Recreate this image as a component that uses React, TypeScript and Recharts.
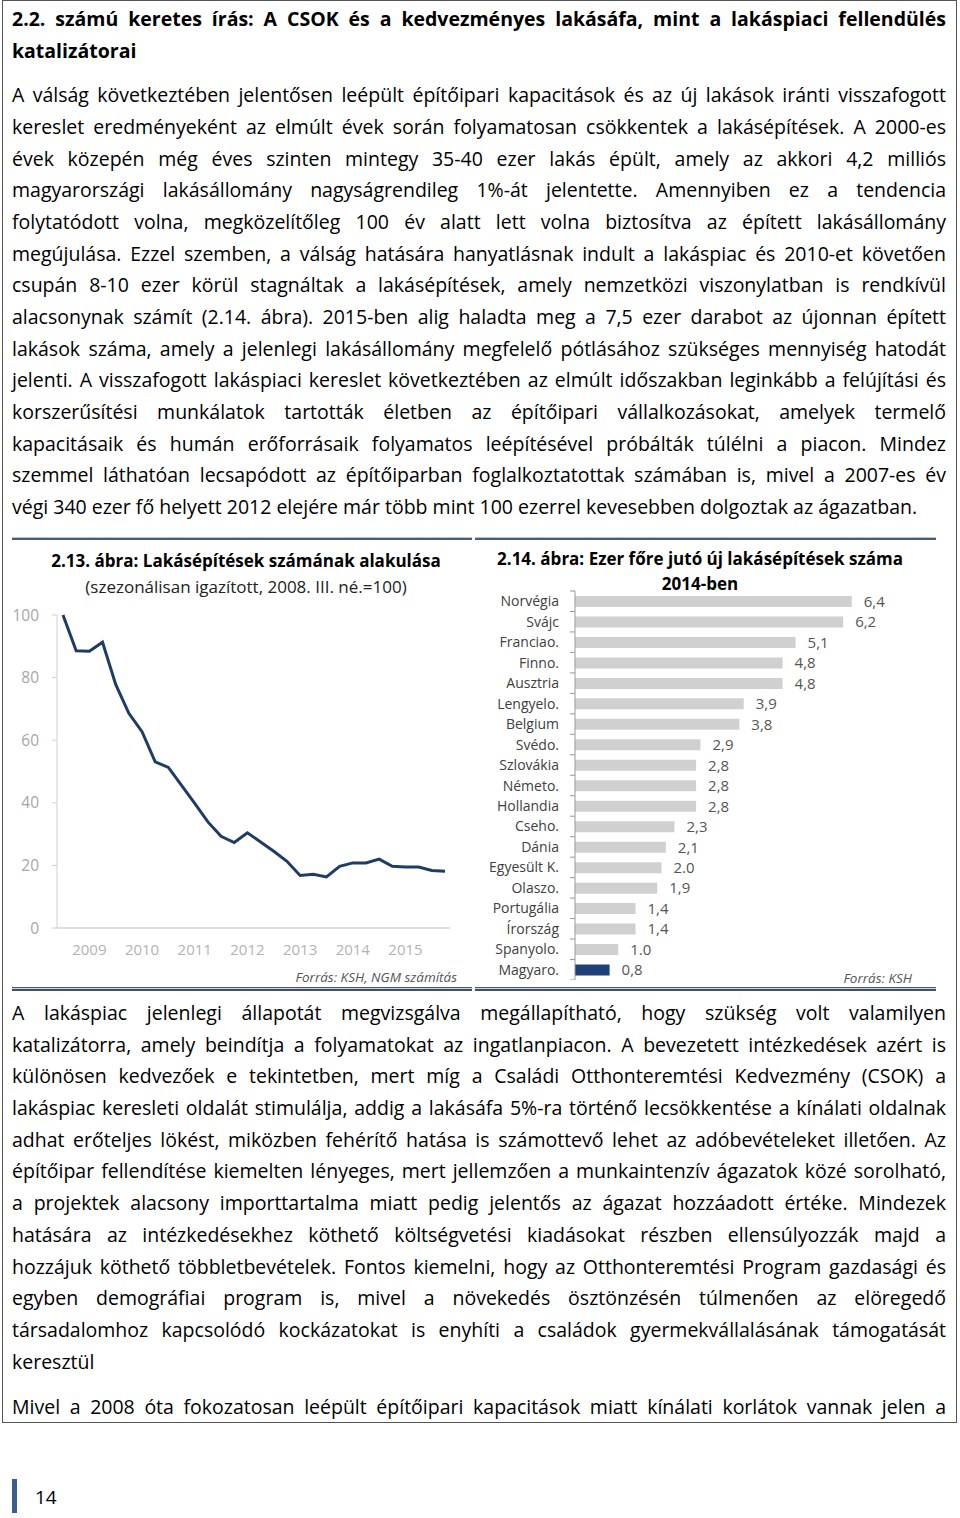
import React, {useLayoutEffect, useRef} from 'react';
import {
  LineChart,
  Line,
  XAxis,
  YAxis,
  BarChart,
  Bar,
  Cell,
  LabelList,
} from 'recharts';

// 2.13. ábra – negyedéves lakásépítések (2008. III. né. = 100)
const quarters = [
  '2008 III', '2008 IV',
  '2009 I', '2009 II', '2009 III', '2009 IV',
  '2010 I', '2010 II', '2010 III', '2010 IV',
  '2011 I', '2011 II', '2011 III', '2011 IV',
  '2012 I', '2012 II', '2012 III', '2012 IV',
  '2013 I', '2013 II', '2013 III', '2013 IV',
  '2014 I', '2014 II', '2014 III', '2014 IV',
  '2015 I', '2015 II', '2015 III', '2015 IV',
];
const index2008 = [
  100, 88.6, 88.4, 91.3, 77.8, 68.6, 62.7, 53.1, 51.3, 45.6,
  39.8, 33.9, 29.3, 27.3, 30.4, 27.5, 24.5, 21.3, 16.8, 17.2,
  16.3, 19.7, 20.8, 20.8, 22.0, 19.7, 19.5, 19.5, 18.4, 18.1,
];
const yearTicks = ['2009 I', '2010 I', '2011 I', '2012 I', '2013 I', '2014 I', '2015 I'];
const leftYTicks = [0, 20, 40, 60, 80, 100];

// 2.14. ábra – ezer főre jutó új lakásépítések 2014-ben
const countries = [
  'Norvégia', 'Svájc', 'Franciao.', 'Finno.', 'Ausztria', 'Lengyelo.', 'Belgium',
  'Svédo.', 'Szlovákia', 'Németo.', 'Hollandia', 'Cseho.', 'Dánia', 'Egyesült K.',
  'Olaszo.', 'Portugália', 'Írország', 'Spanyolo.', 'Magyaro.',
];
const perThousand = [6.4, 6.2, 5.1, 4.8, 4.8, 3.9, 3.8, 2.9, 2.8, 2.8, 2.8, 2.3, 2.1, 2.0, 1.9, 1.4, 1.4, 1.0, 0.8];
const valueLabels = ['6,4', '6,2', '5,1', '4,8', '4,8', '3,9', '3,8', '2,9', '2,8', '2,8', '2,8', '2,3', '2,1', '2.0', '1,9', '1,4', '1,4', '1.0', '0,8'];

const headingLines = [
  '2.2. számú keretes írás: A CSOK és a kedvezményes lakásáfa, mint a lakáspiaci fellendülés',
  'katalizátorai',
];
const para1 = [
  'A válság következtében jelentősen leépült építőipari kapacitások és az új lakások iránti visszafogott',
  'kereslet eredményeként az elmúlt évek során folyamatosan csökkentek a lakásépítések. A 2000-es',
  'évek közepén még éves szinten mintegy 35-40 ezer lakás épült, amely az akkori 4,2 milliós',
  'magyarországi lakásállomány nagyságrendileg 1%-át jelentette. Amennyiben ez a tendencia',
  'folytatódott volna, megközelítőleg 100 év alatt lett volna biztosítva az épített lakásállomány',
  'megújulása. Ezzel szemben, a válság hatására hanyatlásnak indult a lakáspiac és 2010-et követően',
  'csupán 8-10 ezer körül stagnáltak a lakásépítések, amely nemzetközi viszonylatban is rendkívül',
  'alacsonynak számít (2.14. ábra). 2015-ben alig haladta meg a 7,5 ezer darabot az újonnan épített',
  'lakások száma, amely a jelenlegi lakásállomány megfelelő pótlásához szükséges mennyiség hatodát',
  'jelenti. A visszafogott lakáspiaci kereslet következtében az elmúlt időszakban leginkább a felújítási és',
  'korszerűsítési munkálatok tartották életben az építőipari vállalkozásokat, amelyek termelő',
  'kapacitásaik és humán erőforrásaik folyamatos leépítésével próbálták túlélni a piacon. Mindez',
  'szemmel láthatóan lecsapódott az építőiparban foglalkoztatottak számában is, mivel a 2007-es év',
  'végi 340 ezer fő helyett 2012 elejére már több mint 100 ezerrel kevesebben dolgoztak az ágazatban.',
];
const para2 = [
  'A lakáspiac jelenlegi állapotát megvizsgálva megállapítható, hogy szükség volt valamilyen',
  'katalizátorra, amely beindítja a folyamatokat az ingatlanpiacon. A bevezetett intézkedések azért is',
  'különösen kedvezőek e tekintetben, mert míg a Családi Otthonteremtési Kedvezmény (CSOK) a',
  'lakáspiac keresleti oldalát stimulálja, addig a lakásáfa 5%-ra történő lecsökkentése a kínálati oldalnak',
  'adhat erőteljes lökést, miközben fehérítő hatása is számottevő lehet az adóbevételeket illetően. Az',
  'építőipar fellendítése kiemelten lényeges, mert jellemzően a munkaintenzív ágazatok közé sorolható,',
  'a projektek alacsony importtartalma miatt pedig jelentős az ágazat hozzáadott értéke. Mindezek',
  'hatására az intézkedésekhez köthető költségvetési kiadásokat részben ellensúlyozzák majd a',
  'hozzájuk köthető többletbevételek. Fontos kiemelni, hogy az Otthonteremtési Program gazdasági és',
  'egyben demográfiai program is, mivel a növekedés ösztönzésén túlmenően az elöregedő',
  'társadalomhoz kapcsolódó kockázatokat is enyhíti a családok gyermekvállalásának támogatását',
  'keresztül',
];
const para3 = [
  'Mivel a 2008 óta fokozatosan leépült építőipari kapacitások miatt kínálati korlátok vannak jelen a',
];

const FONT = "'Open Sans', sans-serif";
const LH = 31.7;
const TEXT_W = 934;

const lineData = quarters.map((q, i) => ({q, v: index2008[i]}));
const barData = countries.map((name, i) => ({name, v: perThousand[i], label: valueLabels[i]}));

// one printed line: stretched word gaps when justified, squeezed if too long
function TextLine({text, justify, bold}: {text: string; justify: boolean; bold?: boolean}) {
  const ref = useRef<HTMLSpanElement>(null);
  useLayoutEffect(() => {
    const el = ref.current;
    if (!el) return;
    el.style.wordSpacing = '0px';
    el.style.transform = '';
    const w = el.getBoundingClientRect().width;
    const spaces = (text.match(/ /g) || []).length;
    if (w > TEXT_W) {
      el.style.transform = `scaleX(${TEXT_W / w})`;
    } else if (justify && spaces) {
      el.style.wordSpacing = `${(TEXT_W - w) / spaces}px`;
    }
  }, [text, justify]);
  return (
    <div style={{height: LH, lineHeight: LH + 'px', whiteSpace: 'nowrap'}}>
      <span
        ref={ref}
        style={{
          display: 'inline-block',
          transformOrigin: 'left center',
          fontSize: 19.5,
          fontWeight: bold ? 700 : 400,
        }}
      >
        {text}
      </span>
    </div>
  );
}

function TextBlock({lines, top, bold, justifyLast}: {lines: string[]; top: number; bold?: boolean; justifyLast?: boolean}) {
  return (
    <div style={{position: 'absolute', left: 12, top, width: TEXT_W}}>
      {lines.map((l, i) => (
        <TextLine key={i} text={l} bold={bold} justify={i < lines.length - 1 || !!justifyLast} />
      ))}
    </div>
  );
}

const CountryTick = (props: any) => {
  const {x, y, payload, index} = props;
  const ax = x + 16;
  return (
    <g>
      <text x={x} y={y} dy={5} textAnchor="end" fill="#404040" fontSize={14}>
        {payload.value}
      </text>
      <line x1={ax - 5} x2={ax} y1={y - 10.24} y2={y - 10.24} stroke="#999" />
      {index === countries.length - 1 && (
        <line x1={ax - 5} x2={ax} y1={y + 10.24} y2={y + 10.24} stroke="#999" />
      )}
    </g>
  );
};

const Rule = ({left, width, top, bottom}: {left: number; width: number; top: number; bottom?: boolean}) => (
  <div style={{position: 'absolute', left, top, width}}>
    {bottom ? (
      <>
        <div style={{height: 1, background: '#4a5c72'}} />
        <div style={{height: 1, background: '#c9d3dd'}} />
        <div style={{height: 2, background: '#3e5169'}} />
      </>
    ) : (
      <>
        <div style={{height: 1, background: '#b7c4d1'}} />
        <div style={{height: 2, background: '#4a5c72'}} />
      </>
    )}
  </div>
);

export default function App() {
  return (
    <div
      style={{
        position: 'absolute',
        left: 0,
        top: 0,
        width: 960,
        height: 1518,
        background: '#fff',
        fontFamily: FONT,
        color: '#000',
        overflow: 'hidden',
      }}
    >
      {/* keret */}
      <div
        style={{
          position: 'absolute',
          left: 2,
          top: 0,
          width: 955,
          height: 1423,
          border: '1px solid #555',
          boxSizing: 'border-box',
        }}
      />

      <TextBlock lines={headingLines} top={3.2} bold />
      <TextBlock lines={para1} top={79.2} />

      {/* ábrák */}
      <Rule left={12} width={460} top={537} />
      <Rule left={475} width={461} top={537} />
      <Rule left={12} width={460} top={987} bottom />
      <Rule left={475} width={461} top={987} bottom />

      <div style={{position: 'absolute', left: 0, top: 548, width: 492, textAlign: 'center', fontSize: 17, fontWeight: 700, lineHeight: '26px', whiteSpace: 'nowrap'}}>
        2.13. ábra: Lakásépítések számának alakulása
      </div>
      <div style={{position: 'absolute', left: 0, top: 574, width: 492, textAlign: 'center', fontSize: 17, lineHeight: '26px', color: '#222', whiteSpace: 'nowrap'}}>
        (szezonálisan igazított, 2008. III. né.=100)
      </div>

      <div style={{position: 'absolute', left: 0, top: 600}}>
        <LineChart width={470} height={370} data={lineData} margin={{top: 15, right: 20, left: 0, bottom: 0}}>
          <XAxis
            dataKey="q"
            ticks={yearTicks}
            tickFormatter={(q: string) => q.slice(0, 4)}
            interval={0}
            padding={{left: 6, right: 5}}
            height={42}
            axisLine={{stroke: '#bfbfbf'}}
            tickLine={false}
            tickMargin={10}
            tick={{fill: '#b3b3b3', fontSize: 15}}
          />
          <YAxis
            domain={[0, 100]}
            ticks={leftYTicks}
            width={57}
            axisLine={{stroke: '#d0d0d0'}}
            tickLine={{stroke: '#d0d0d0'}}
            tickSize={5}
            tickMargin={13}
            tick={{fill: '#a6a6a6', fontSize: 15.5}}
          />
          <Line
            type="linear"
            dataKey="v"
            stroke="#1f3c68"
            strokeWidth={3}
            dot={false}
            isAnimationActive={false}
          />
        </LineChart>
      </div>
      <div style={{position: 'absolute', right: 960 - 457, top: 967, fontSize: 13.5, fontStyle: 'italic', color: '#555', lineHeight: '20px', whiteSpace: 'nowrap'}}>
        Forrás: KSH, NGM számítás
      </div>

      <div style={{position: 'absolute', left: 476, top: 546, width: 448, textAlign: 'center', fontSize: 17, fontWeight: 700, lineHeight: '26px', whiteSpace: 'nowrap'}}>
        2.14. ábra: Ezer főre jutó új lakásépítések száma
      </div>
      <div style={{position: 'absolute', left: 476, top: 571, width: 448, textAlign: 'center', fontSize: 17, fontWeight: 700, lineHeight: '26px'}}>
        2014-ben
      </div>

      <div style={{position: 'absolute', left: 476, top: 580}}>
        <BarChart
          width={460}
          height={400}
          layout="vertical"
          data={barData}
          margin={{top: 11, right: 15, left: 0, bottom: 0}}
          barSize={11}
        >
          <XAxis type="number" domain={[0, 8]} hide />
          <YAxis
            type="category"
            dataKey="name"
            width={99}
            axisLine={{stroke: '#999'}}
            tickLine={false}
            tickSize={6}
            tickMargin={10}
            tick={<CountryTick />}
            interval={0}
          />
          <Bar dataKey="v" isAnimationActive={false}>
            {barData.map((d) => (
              <Cell key={d.name} fill={d.name === 'Magyaro.' ? '#1f4178' : '#d0d0d0'} />
            ))}
            <LabelList dataKey="label" position="right" offset={12} fill="#555" fontSize={15} />
          </Bar>
        </BarChart>
      </div>
      <div style={{position: 'absolute', right: 960 - 912, top: 968, fontSize: 13.5, fontStyle: 'italic', color: '#555', lineHeight: '20px', whiteSpace: 'nowrap'}}>
        Forrás: KSH
      </div>

      <TextBlock lines={para2} top={997} />
      <TextBlock lines={para3} top={1391} justifyLast />

      {/* oldalszám */}
      <div style={{position: 'absolute', left: 12, top: 1479, width: 5, height: 34, background: '#3a5f8f'}} />
      <div style={{position: 'absolute', left: 35, top: 1483, fontSize: 19, lineHeight: '28px'}}>14</div>
    </div>
  );
}
